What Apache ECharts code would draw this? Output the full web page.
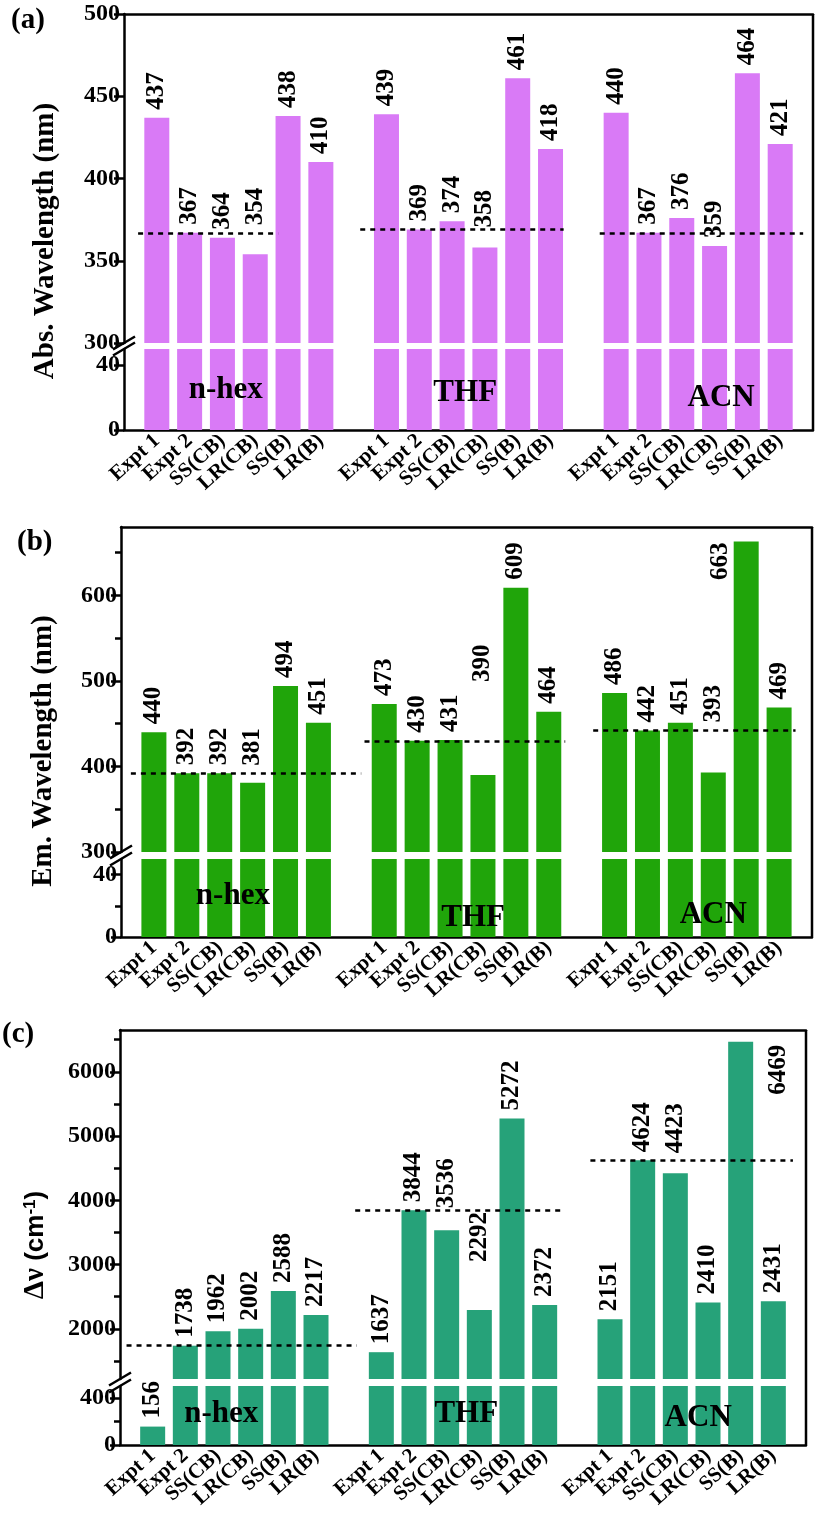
<!DOCTYPE html>
<html><head><meta charset="utf-8">
<script src="https://cdn.jsdelivr.net/npm/echarts@6/dist/echarts.min.js"></script>
<style>html,body{margin:0;padding:0;background:#fff}#c{width:816px;height:1520px}</style>
</head><body><div id="c"></div>
<script>
// ---------- data ----------
const categories = ['Expt 1', 'Expt 2', 'SS(CB)', 'LR(CB)', 'SS(B)', 'LR(B)'];
const solvents = ['n-hex', 'THF', 'ACN'];

const absNhex = [437, 367, 364, 354, 438, 410];
const absTHF  = [439, 369, 374, 358, 461, 418];
const absACN  = [440, 367, 376, 359, 464, 421];

const emNhex = [440, 392, 392, 381, 494, 451];
const emTHF  = [473, 430, 431, 390, 609, 464];
const emACN  = [486, 442, 451, 393, 663, 469];

const dvNhex = [156, 1738, 1962, 2002, 2588, 2217];
const dvTHF  = [1637, 3844, 3536, 2292, 5272, 2372];
const dvACN  = [2151, 4624, 4423, 2410, 6469, 2431];

const absUpperTicks = [300, 350, 400, 450, 500];
const absLowerTicks = [0, 40];
const emUpperTicks = [300, 400, 500, 600];
const emUpperMinor = [350, 450, 550, 650];
const emLowerTicks = [0, 40];
const emLowerMinor = [20];
const dvUpperTicks = [2000, 3000, 4000, 5000, 6000];
const dvUpperMinor = [1500, 2500, 3500, 4500, 5500, 6500];
const dvLowerTicks = [0, 400];
const dvLowerMinor = [200];

// ---------- layout / style ----------
const SERIF = '"Liberation Serif","Times New Roman",serif';
const SANS = '"Liberation Sans",Arial,sans-serif';
const SLOTS = 21;            // x positions 0..21; bars on 1..6, 8..13, 15..20
const slotOf = (g, i) => g * 7 + i + 1;
const slotName = {};
solvents.forEach((s, g) => categories.forEach((c, i) => { slotName[slotOf(g, i)] = c; }));
const slotXs = Object.keys(slotName).map(Number);
const LW = 2.5;

const panels = [
  {
    groups: [absNhex, absTHF, absACN], color: '#D97AF6',
    left: 124, right: 813, top: 14, brk1: 343, brk2: 349, bottom: 430,
    upMin: 300, upMax: 500, upMajor: absUpperTicks, upMinor: [],
    loMax: 50, loMajor: absLowerTicks, loMinor: [],
    title: 'Abs. Wavelength (nm)', titleX: 46, titleY: 241,
    letter: '(a)', letterX: 11, letterY: 6,
    dash: [[0.43, 4.7], [7.2, 13.4], [14.5, 20.7]],
    groupPos: [[3.1, 24.5], [10.4, 23], [18.2, 20]],
    tweaks: { '0-3': { distance: 29 }, '1-3': { distance: 20 } }
  },
  {
    groups: [emNhex, emTHF, emACN], color: '#20A50A',
    left: 121, right: 812, top: 527, brk1: 852, brk2: 859, bottom: 937,
    upMin: 300, upMax: 680, upMajor: emUpperTicks, upMinor: emUpperMinor,
    loMax: 50, loMajor: emLowerTicks, loMinor: emLowerMinor,
    title: 'Em. Wavelength (nm)', titleX: 44, titleY: 751,
    letter: '(b)', letterX: 17, letterY: 528,
    dash: [[0.3, 7.3], [7.4, 13.5], [14.35, 20.5]],
    groupPos: [[3.4, 26.5], [10.7, 12], [18.0, 14]],
    tweaks: { '0-3': { distance: 17 }, '1-3': { distance: 93 }, '2-3': { distance: 50 },
              '2-4': { position: [-13, 1], align: 'right' } }
  },
  {
    groups: [dvNhex, dvTHF, dvACN], color: '#26A279',
    left: 120, right: 806, top: 1030, brk1: 1379, brk2: 1386, bottom: 1445,
    upMin: 1220, upMax: 6650, upMajor: dvUpperTicks, upMinor: dvUpperMinor,
    loMax: 500, loMajor: dvLowerTicks, loMinor: dvLowerMinor,
    title: null, titleX: 36, titleY: 1245,
    letter: '(c)', letterX: 2, letterY: 1020,
    dash: [[0.2, 7.25], [7.2, 13.5], [14.4, 20.6]],
    groupPos: [[3.1, 265], [10.6, 265], [17.7, 225]],
    tweaks: { '1-2': { distance: 22 }, '1-3': { distance: 48 }, '2-2': { distance: 20 },
              '2-4': { position: [50, 3], align: 'right' } }
  }
];

const grids = [], xAxes = [], yAxes = [], series = [], graphics = [];
const axisLineStyle = { color: '#000', width: LW };
const tickFont = { fontFamily: SERIF, fontWeight: 'bold', fontSize: 24, color: '#000' };

function addYAxis(grid, min, max, major, minor) {
  const idx = yAxes.length;
  yAxes.push({
    gridIndex: grid, type: 'value', min: min, max: max, position: 'left',
    axisLine: { show: true, onZero: false, lineStyle: axisLineStyle },
    axisTick: { show: true, length: 10, customValues: major, lineStyle: axisLineStyle },
    axisLabel: Object.assign({ show: true, customValues: major, margin: 4,
                               formatter: (v) => String(v) }, tickFont),
    splitLine: { show: false }
  });
  if (minor.length) {
    yAxes.push({
      gridIndex: grid, type: 'value', min: min, max: max, position: 'left',
      axisLine: { show: false, onZero: false },
      axisTick: { show: true, length: 6, customValues: minor, lineStyle: axisLineStyle },
      axisLabel: { show: false },
      splitLine: { show: false }
    });
  }
  return idx;
}

const baseLabel = {
  show: true, position: 'top', rotate: 90, align: 'left', verticalAlign: 'middle',
  distance: 8, fontFamily: SERIF, fontWeight: 'bold', fontSize: 25, color: '#000',
  formatter: (p) => String(p.value[1])
};

panels.forEach((p) => {
  const w = p.right - p.left;
  const gUp = grids.length;
  grids.push({ left: p.left, width: w, top: p.top, height: p.brk1 - p.top });
  const gLo = grids.length;
  grids.push({ left: p.left, width: w, top: p.brk2, height: p.bottom - p.brk2 });

  const xUp = xAxes.length;
  xAxes.push({
    gridIndex: gUp, type: 'value', min: 0, max: SLOTS, position: 'top',
    axisLine: { show: true, onZero: false, lineStyle: axisLineStyle },
    axisTick: { show: false }, axisLabel: { show: false }, splitLine: { show: false }
  });
  const xLo = xAxes.length;
  xAxes.push({
    gridIndex: gLo, type: 'value', min: 0, max: SLOTS, position: 'bottom',
    axisLine: { show: true, onZero: false, lineStyle: axisLineStyle },
    axisTick: { show: false }, splitLine: { show: false },
    axisLabel: {
      customValues: slotXs, formatter: (v) => slotName[v] || '', rotate: 42, margin: 8,
      fontFamily: SERIF, fontWeight: 'bold', fontSize: 21, color: '#000'
    }
  });
  const yUp = addYAxis(gUp, p.upMin, p.upMax, p.upMajor, p.upMinor);
  const yLo = addYAxis(gLo, 0, p.loMax, p.loMajor, p.loMinor);

  const upData = [], loData = [];
  p.groups.forEach((vals, g) => vals.forEach((v, i) => {
    const tw = p.tweaks[g + '-' + i] || {};
    upData.push({ value: [slotOf(g, i), v], label: Object.assign({ show: v >= p.upMin }, tw) });
    loData.push({ value: [slotOf(g, i), v], label: { show: v <= p.loMax } });
  }));

  series.push({
    type: 'bar', xAxisIndex: xUp, yAxisIndex: yUp, barWidth: 25, clip: true,
    itemStyle: { color: p.color }, label: baseLabel, data: upData, animation: false,
    markLine: {
      silent: true, symbol: ['none', 'none'], label: { show: false },
      lineStyle: { color: '#000', width: LW, type: [5, 5] },
      data: p.dash.map((d, g) => [
        { coord: [d[0], p.groups[g][1]] }, { coord: [d[1], p.groups[g][1]] }
      ])
    }
  });
  series.push({
    type: 'bar', xAxisIndex: xLo, yAxisIndex: yLo, barWidth: 25, clip: true,
    itemStyle: { color: p.color }, label: baseLabel, data: loData, animation: false,
    markPoint: {
      symbol: 'circle', symbolSize: 0, silent: true,
      label: { show: true, position: 'inside', formatter: '{b}', fontFamily: SERIF,
               fontWeight: 'bold', fontSize: 31, color: '#000' },
      data: solvents.map((s, g) => ({ name: s, coord: p.groupPos[g] }))
    }
  });

  // right border (continuous through the break)
  graphics.push({ type: 'line', silent: true, z: 50,
    shape: { x1: p.right, y1: p.top, x2: p.right, y2: p.bottom },
    style: { stroke: '#000', lineWidth: LW } });
  // break marks on the left axis
  [p.brk1, p.brk2].forEach((yb) => {
    graphics.push({ type: 'line', silent: true, z: 50,
      shape: { x1: p.left - 11, y1: yb + 6.5, x2: p.left + 11, y2: yb - 6.5 },
      style: { stroke: '#000', lineWidth: LW } });
  });
  // panel letter
  graphics.push({ type: 'text', silent: true, x: p.letterX, y: p.letterY,
    style: { text: p.letter, font: 'bold 29px ' + SERIF, fill: '#000' } });
  // y-axis title
  if (p.title) {
    graphics.push({ type: 'text', silent: true, x: p.titleX, y: p.titleY, rotation: Math.PI / 2,
      style: { text: p.title, font: 'bold 29px ' + SERIF, fill: '#000',
               textAlign: 'center', textVerticalAlign: 'middle' } });
  } else {
    graphics.push({ type: 'text', silent: true, x: p.titleX, y: p.titleY, rotation: Math.PI / 2,
      style: { text: '{g|Δν }{s|(cm}{sup|-1}{s|)}', fill: '#000',
               textAlign: 'center', textVerticalAlign: 'middle',
               rich: {
                 g: { fontFamily: SERIF, fontWeight: 'bold', fontSize: 29, fill: '#000' },
                 s: { fontFamily: SANS, fontWeight: 'bold', fontSize: 26, fill: '#000' },
                 sup: { fontFamily: SANS, fontWeight: 'bold', fontSize: 17, fill: '#000', verticalAlign: 'top', padding: [0, 0, 12, 0] }
               } } });
  }
});

const chart = echarts.init(document.getElementById('c'), null, { renderer: 'canvas', width: 816, height: 1520 });
chart.setOption({
  backgroundColor: '#fff',
  animation: false,
  grid: grids, xAxis: xAxes, yAxis: yAxes, series: series, graphic: graphics
});
</script>
</body></html>
